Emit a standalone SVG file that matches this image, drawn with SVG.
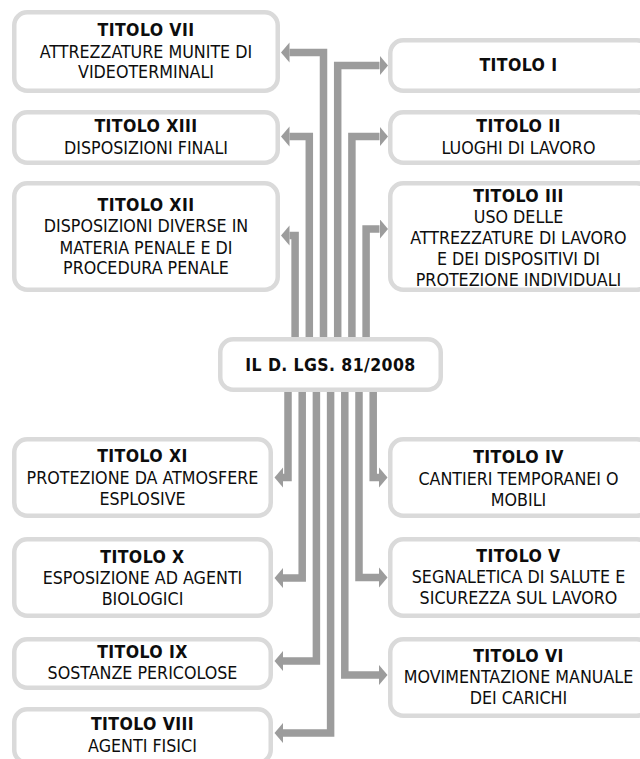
<svg xmlns="http://www.w3.org/2000/svg" width="640" height="759" viewBox="0 0 640 759">
  <style>
    .box { fill: #ffffff; stroke: #dadada; stroke-width: 4.5; }
    .link { fill: none; stroke: #9c9c9c; stroke-width: 7.5; stroke-linejoin: miter; stroke-linecap: butt; marker-end: url(#head); }
    text { font-family: "DejaVu Sans Condensed", "DejaVu Sans", "Liberation Sans", sans-serif; font-stretch: condensed; fill: #0d0d0d; text-anchor: middle; }
    .t { font-size: 17.5px; font-weight: bold; letter-spacing: 0.4px; }
    .d { font-size: 17.7px; }
  </style>
  <defs>
    <marker id="head" markerUnits="userSpaceOnUse" viewBox="0 0 9 22" markerWidth="9" markerHeight="22" refX="0" refY="11" orient="auto">
      <path d="M0,1 L8.5,11 L0,21 Z" fill="#9c9c9c"/>
    </marker>
  </defs>
  <rect width="640" height="759" fill="#ffffff"/>

  <!-- thick elbow connectors from the central node -->
  <g id="connectors">
    <polyline class="link" points="323.5,364 323.5,52.5 289.5,52.5"/>
    <polyline class="link" points="309.3,364 309.3,136.5 289.5,136.5"/>
    <polyline class="link" points="295.1,364 295.1,235.5 289.5,235.5"/>
    <polyline class="link" points="337.7,364 337.7,65.5 379.5,65.5"/>
    <polyline class="link" points="351.9,364 351.9,136.5 379.5,136.5"/>
    <polyline class="link" points="366.1,364 366.1,229 379.5,229"/>
    <polyline class="link" points="288,364 288,477.5 283,477.5"/>
    <polyline class="link" points="302.2,364 302.2,578 283,578"/>
    <polyline class="link" points="316.4,364 316.4,661 283,661"/>
    <polyline class="link" points="330.6,364 330.6,733 283,733"/>
    <polyline class="link" points="373.2,364 373.2,477.5 379,477.5"/>
    <polyline class="link" points="359,364 359,577.5 379,577.5"/>
    <polyline class="link" points="344.8,364 344.8,675 379,675"/>
  </g>

  <g id="center">
    <rect class="box" x="220.25" y="339.25" width="220.5" height="50.5" rx="13"/>
    <text class="t" x="330.5" y="371">IL D. LGS. 81/2008</text>
  </g>

  <g id="titolo-vii">
    <rect class="box" x="14.25" y="12.25" width="263.5" height="78.5" rx="13"/>
    <text class="t" x="146" y="35.5">TITOLO VII</text>
    <text class="d" x="146" y="57.5">ATTREZZATURE MUNITE DI</text>
    <text class="d" x="146" y="78">VIDEOTERMINALI</text>
  </g>
  <g id="titolo-xiii">
    <rect class="box" x="14.25" y="112.25" width="263.5" height="50.5" rx="13"/>
    <text class="t" x="146" y="132">TITOLO XIII</text>
    <text class="d" x="146" y="153.5">DISPOSIZIONI FINALI</text>
  </g>
  <g id="titolo-xii">
    <rect class="box" x="14.25" y="183.25" width="263.5" height="106.5" rx="13"/>
    <text class="t" x="146" y="210.5">TITOLO XII</text>
    <text class="d" x="146" y="232">DISPOSIZIONI DIVERSE IN</text>
    <text class="d" x="146" y="253.5">MATERIA PENALE E DI</text>
    <text class="d" x="146" y="274">PROCEDURA PENALE</text>
  </g>

  <g id="titolo-i">
    <rect class="box" x="390.25" y="40.25" width="259.5" height="50.5" rx="13"/>
    <text class="t" x="518.5" y="71">TITOLO I</text>
  </g>
  <g id="titolo-ii">
    <rect class="box" x="390.25" y="112.25" width="259.5" height="50.5" rx="13"/>
    <text class="t" x="518.5" y="132">TITOLO II</text>
    <text class="d" x="518.5" y="153.5">LUOGHI DI LAVORO</text>
  </g>
  <g id="titolo-iii">
    <rect class="box" x="390.25" y="183.25" width="259.5" height="106.5" rx="13"/>
    <text class="t" x="518.5" y="201.5">TITOLO III</text>
    <text class="d" x="518.5" y="222.5">USO DELLE</text>
    <text class="d" x="518.5" y="243.5">ATTREZZATURE DI LAVORO</text>
    <text class="d" x="518.5" y="264.5">E DEI DISPOSITIVI DI</text>
    <text class="d" x="518.5" y="285.5">PROTEZIONE INDIVIDUALI</text>
  </g>

  <g id="titolo-xi">
    <rect class="box" x="14.25" y="439.25" width="256.5" height="76.5" rx="13"/>
    <text class="t" x="142.5" y="461.5">TITOLO XI</text>
    <text class="d" x="142.5" y="483.5">PROTEZIONE DA ATMOSFERE</text>
    <text class="d" x="142.5" y="505">ESPLOSIVE</text>
  </g>
  <g id="titolo-x">
    <rect class="box" x="14.25" y="539.25" width="256.5" height="76.5" rx="13"/>
    <text class="t" x="142.5" y="562.5">TITOLO X</text>
    <text class="d" x="142.5" y="584">ESPOSIZIONE AD AGENTI</text>
    <text class="d" x="142.5" y="604.5">BIOLOGICI</text>
  </g>
  <g id="titolo-ix">
    <rect class="box" x="14.25" y="639.25" width="256.5" height="48.5" rx="13"/>
    <text class="t" x="142.5" y="658">TITOLO IX</text>
    <text class="d" x="142.5" y="679">SOSTANZE PERICOLOSE</text>
  </g>
  <g id="titolo-viii">
    <rect class="box" x="14.25" y="709.25" width="256.5" height="53.5" rx="13"/>
    <text class="t" x="142.5" y="730">TITOLO VIII</text>
    <text class="d" x="142.5" y="751.5">AGENTI FISICI</text>
  </g>

  <g id="titolo-iv">
    <rect class="box" x="390.25" y="439.25" width="259.5" height="76.5" rx="13"/>
    <text class="t" x="518.5" y="463">TITOLO IV</text>
    <text class="d" x="518.5" y="484.5">CANTIERI TEMPORANEI O</text>
    <text class="d" x="518.5" y="505.5">MOBILI</text>
  </g>
  <g id="titolo-v">
    <rect class="box" x="390.25" y="539.25" width="259.5" height="76.5" rx="13"/>
    <text class="t" x="518.5" y="562">TITOLO V</text>
    <text class="d" x="518.5" y="583">SEGNALETICA DI SALUTE E</text>
    <text class="d" x="518.5" y="603.5">SICUREZZA SUL LAVORO</text>
  </g>
  <g id="titolo-vi">
    <rect class="box" x="390.25" y="639.25" width="259.5" height="76.5" rx="13"/>
    <text class="t" x="518.5" y="662">TITOLO VI</text>
    <text class="d" x="518.5" y="682.5">MOVIMENTAZIONE MANUALE</text>
    <text class="d" x="518.5" y="703.5">DEI CARICHI</text>
  </g>
</svg>
